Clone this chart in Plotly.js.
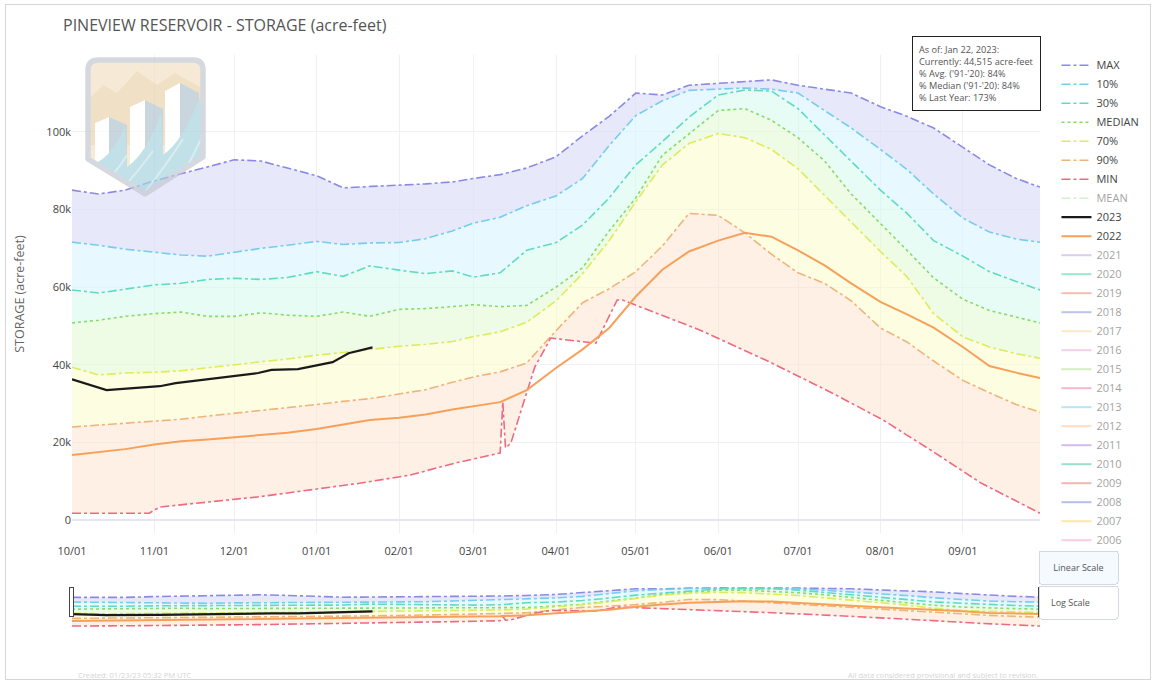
<!DOCTYPE html>
<html>
<head>
<meta charset="utf-8">
<script src="https://cdn.plot.ly/plotly-3.0.1.min.js"></script>
<style>
html,body{margin:0;padding:0;background:#fff;}
#chart{width:1156px;height:681px;position:absolute;left:0;top:0;}
#frame{position:absolute;left:5px;top:4px;width:1144px;height:674px;border:1px solid #d6d6d6;pointer-events:none;}
rect.rangeslider-mask-min-opp-axis, rect.rangeslider-mask-max-opp-axis{display:none !important;}
</style>
</head>
<body>
<div id="chart"></div>
<div id="frame"></div>
<script>
// ---- data (acre-feet) ----
const DATES = ['2022-10-01','2022-10-11','2022-10-21','2022-11-01','2022-11-11','2022-11-21','2022-12-01','2022-12-11','2022-12-21',
  '2023-01-01','2023-01-11','2023-01-21','2023-02-01','2023-02-11','2023-02-21','2023-03-01','2023-03-11','2023-03-21',
  '2023-04-01','2023-04-11','2023-04-21','2023-05-01','2023-05-11','2023-05-21','2023-06-01','2023-06-11','2023-06-21',
  '2023-07-01','2023-07-11','2023-07-21','2023-08-01','2023-08-11','2023-08-21','2023-09-01','2023-09-11','2023-09-21','2023-09-30'];
const MAX_VALS = [85000,84000,85000,87400,89200,91000,92800,92500,90700,88700,85600,86000,86300,86600,87100,88000,89000,90700,
  93600,99000,104000,110000,109500,112000,112500,112800,113400,112000,111000,110000,106500,104000,101000,96000,91500,88000,85800];
const P10_VALS = [71600,70800,69800,69000,68300,68000,69000,70000,70800,71800,71000,71400,71500,72500,74500,76500,78000,81000,
  83500,88000,96500,104200,108000,110700,111000,111300,111000,110000,105500,101000,95500,90300,84000,77800,74200,72400,71600];
const P30_VALS = [59300,58500,59500,60600,61000,62000,62300,62000,62500,64000,62800,65500,64400,63500,64200,62600,63700,69500,
  71500,76000,83000,91500,97500,103800,109500,110800,110500,106000,99200,92500,85000,79000,72000,68000,64000,61500,59300];
const MEDIAN_VALS = [50800,51500,52500,53200,53600,52500,52500,53400,52800,52500,53600,52500,54300,54500,55000,55500,55000,55300,
  60000,65000,74500,83000,94000,99500,105500,106000,103000,98500,92500,84000,76500,69500,62400,56900,54000,52300,50800];
const P70_VALS = [39400,37400,37900,38100,38500,39300,40000,40800,41500,42500,43200,44000,44800,45300,46000,47300,48500,51000,
  56500,63500,72000,82000,91500,97000,99600,98500,95500,90500,83700,76800,69200,62700,53200,47200,44600,42900,41700];
const P90_VALS = [24000,24500,25000,25500,26000,26800,27500,28300,29000,29800,30600,31300,32500,33600,35500,36900,38200,40500,
  48800,56000,59600,64000,70600,79000,78500,74000,68500,63700,61000,56500,49500,45900,41000,36000,32800,29800,27800];
const Y2022_VALS = [16800,17500,18300,19500,20300,20800,21400,21900,22500,23500,24700,25800,26400,27200,28500,29300,30400,33500,
  39200,44000,49500,57600,64500,69200,72000,74000,73000,69500,65600,61000,56200,53000,49600,44600,39700,38000,36600];

const MIN_DATES = ['2022-10-01','2022-10-30','2022-11-03','2022-12-10','2023-01-17','2023-02-05','2023-02-22','2023-03-11','2023-03-12',
  '2023-03-13','2023-03-15','2023-03-24','2023-03-30','2023-04-16','2023-04-24','2023-04-26','2023-05-25','2023-06-19','2023-07-14',
  '2023-08-02','2023-08-20','2023-09-08','2023-09-30'];
const MIN_VALS = [1800,1800,3400,6000,9500,11600,14700,17300,30400,18600,19800,39400,46900,45600,56700,56700,49000,41200,32700,
  25800,18000,9500,1800];

const Y2023_DATES = ['2022-10-01','2022-10-14','2022-11-03','2022-11-09','2022-12-10','2022-12-15','2022-12-25','2023-01-07','2023-01-13','2023-01-22'];
const Y2023_VALS = [36300,33500,34500,35300,37900,38700,38900,40700,43000,44515];

// series that are only listed in the legend (hidden, no values drawn)
const HIDDEN_YEARS = ['2021','2020','2019','2018','2017','2016','2015','2014','2013','2012','2011','2010','2009','2008','2007','2006'];
const HIDDEN_COLORS = ['#b39ddb','#3fcf9f','#f07a6a','#7f86e0','#ffd28a','#e6a0dc','#a9de86','#f0708c','#6ccbf0','#ffb98a',
  '#a37be0','#36c094','#e2705f','#6f7fd6','#ffcf52','#f39ad6'];

const TITLE = 'PINEVIEW RESERVOIR - STORAGE (acre-feet)';
const INFO_TEXT = "As of: Jan 22, 2023:<br>Currently: 44,515 acre-feet<br>% Avg. ('91-'20): 84%<br>% Median ('91-'20): 84%<br>% Last Year: 173%";

// ---- traces ----
const traces = [];
const bands = [
  {y: P90_VALS, fill: 'rgba(253,228,205,0.55)'},
  {y: P70_VALS, fill: 'rgba(250,252,205,0.6)'},
  {y: MEDIAN_VALS, fill: 'rgba(226,250,214,0.6)'},
  {y: P30_VALS, fill: 'rgba(215,250,238,0.6)'},
  {y: P10_VALS, fill: 'rgba(218,244,253,0.65)'},
  {y: MAX_VALS, fill: 'rgba(224,224,250,0.75)'}
];
traces.push({x: MIN_DATES, y: MIN_VALS, mode: 'lines', line: {width: 0}, showlegend: false, hoverinfo: 'skip'});
bands.forEach(b => traces.push({x: DATES, y: b.y, mode: 'lines', line: {width: 0}, fill: 'tonexty', fillcolor: b.fill, showlegend: false, hoverinfo: 'skip'}));

const stat = [
  {name: 'MAX', x: DATES, y: MAX_VALS, color: '#8a8ae6', dash: 'dashdot'},
  {name: '10%', x: DATES, y: P10_VALS, color: '#76cdef', dash: 'dashdot'},
  {name: '30%', x: DATES, y: P30_VALS, color: '#5fdcc0', dash: 'dashdot'},
  {name: 'MEDIAN', x: DATES, y: MEDIAN_VALS, color: '#86dc6a', dash: 'dot'},
  {name: '70%', x: DATES, y: P70_VALS, color: '#dcec5a', dash: 'dashdot'},
  {name: '90%', x: DATES, y: P90_VALS, color: '#efb47c', dash: 'dashdot'},
  {name: 'MIN', x: MIN_DATES, y: MIN_VALS, color: '#ee6a80', dash: 'dashdot'}
];
stat.forEach((s, i) => traces.push({x: s.x, y: s.y, name: s.name, mode: 'lines', legendrank: i + 1,
  line: {color: s.color, width: 1.6, dash: s.dash}}));
traces.push({x: [DATES[0]], y: [null], name: 'MEAN', mode: 'lines', legendrank: 8, visible: 'legendonly',
  line: {color: '#a6e6a0', width: 1.6, dash: 'dashdot'}});
traces.push({x: Y2023_DATES, y: Y2023_VALS, name: '2023', mode: 'lines', legendrank: 9, line: {color: '#1a1a1a', width: 2.2}});
traces.push({x: DATES, y: Y2022_VALS, name: '2022', mode: 'lines', legendrank: 10, line: {color: '#f7a05a', width: 2}});
HIDDEN_YEARS.forEach((yr, i) => traces.push({x: [DATES[0]], y: [null], name: yr, mode: 'lines', legendrank: 11 + i,
  visible: 'legendonly', line: {color: HIDDEN_COLORS[i], width: 2}}));

// ---- logo (svg) ----
const shield = 'M14,5 H108 Q118,5 118,15 V102 L60,139 L3,104 V15 Q3,5 14,5 Z';
const logoSvg = "<svg xmlns='http://www.w3.org/2000/svg' width='122' height='143' viewBox='0 0 122 143'>" +
  "<defs><clipPath id='c'><path d='" + shield + "'/></clipPath></defs>" +
  "<g clip-path='url(#c)'>" +
  "<rect x='0' y='0' width='122' height='143' fill='#f3e2c6'/>" +
  "<path d='M0,48 L18,30 L32,38 L52,16 L72,30 L90,18 L122,36 L122,90 L0,90 Z' fill='#ead3ad'/>" +
  "<path d='M10,68 L24,62 L24,120 L10,126 Z' fill='#ffffff'/>" +
  "<path d='M24,62 L42,70 L42,112 L24,120 Z' fill='#b3c6d1'/>" +
  "<path d='M45,52 L60,45 L60,108 L45,114 Z' fill='#ffffff'/>" +
  "<path d='M60,45 L78,54 L78,100 L60,108 Z' fill='#b3c6d1'/>" +
  "<path d='M80,36 L95,28 L95,96 L80,102 Z' fill='#ffffff'/>" +
  "<path d='M95,28 L114,38 L114,88 L95,96 Z' fill='#b3c6d1'/>" +
  "<path d='M0,143 L0,112 Q24,108 40,72 L42,112 Q62,98 76,58 L78,100 Q98,86 114,44 L122,40 L122,143 Z' fill='#a9d4df'/>" +
  "<path d='M8,140 Q30,120 42,100 M30,142 Q52,118 68,96 M56,142 Q80,112 98,84 M84,142 Q100,118 118,80' stroke='#c9e6ec' stroke-width='2' fill='none'/>" +
  "</g>" +
  "<path d='" + shield + "' fill='none' stroke='#c4cad2' stroke-width='5.5' stroke-linejoin='round'/>" +
  "</svg>";

// ---- layout ----
const PLOT_TOP = 55, PLOT_BOTTOM = 533, PLOT_LEFT = 72, PLOT_RIGHT = 1040;
const PH = PLOT_BOTTOM - PLOT_TOP, PW = PLOT_RIGHT - PLOT_LEFT;
const layout = {
  width: 1156, height: 681,
  margin: {l: PLOT_LEFT, r: 1156 - PLOT_RIGHT, t: PLOT_TOP, b: 681 - PLOT_BOTTOM, autoexpand: false},
  paper_bgcolor: 'white', plot_bgcolor: 'white',
  font: {family: '"Open Sans", sans-serif', color: '#444', size: 11},
  title: {text: TITLE, xref: 'container', yref: 'container', x: 63 / 1156, xanchor: 'left', y: 1 - 25 / 681, yanchor: 'middle',
    font: {size: 16, color: '#555'}},
  xaxis: {type: 'date', range: ['2022-10-01', '2023-09-30'], tickformat: '%m/%d', dtick: 'M1', tick0: '2022-10-01',
    gridcolor: '#edf0f5', showline: false, ticks: '', ticklabelstandoff: 10, tickfont: {size: 11, color: '#444'},
    rangeslider: {visible: true, thickness: 0.12, bgcolor: 'white', borderwidth: 0,
      yaxis: {rangemode: 'fixed', range: [-9600, 155800]}}},
  yaxis: {range: [-3300, 119800], dtick: 20000, gridcolor: '#edf0f5', zeroline: true, zerolinecolor: '#e4e7ee', zerolinewidth: 2,
    tickfont: {size: 11, color: '#444'},
    title: {text: 'STORAGE (acre-feet)', font: {size: 12.5, color: '#666'}, standoff: 18}},
  legend: {x: 1.017, xanchor: 'left', y: 1.009, yanchor: 'top', traceorder: 'normal', maxheight: 640,
    font: {size: 11, color: '#444'}, bgcolor: 'rgba(0,0,0,0)'},
  annotations: [
    {xref: 'paper', yref: 'paper', x: 1.001, y: 1 + (PLOT_TOP - 36) / PH, xanchor: 'right', yanchor: 'top', align: 'left',
      text: INFO_TEXT, showarrow: false, bordercolor: '#222', borderwidth: 1, borderpad: 6, bgcolor: 'white',
      font: {size: 9.2, color: '#555'}},
    {xref: 'paper', yref: 'paper', x: (76 - PLOT_LEFT) / PW, y: -(675 - PLOT_BOTTOM) / PH, xanchor: 'left', yanchor: 'middle',
      text: 'Created: 01/23/23 05:32 PM UTC', showarrow: false, font: {size: 7.5, color: '#d4d4d4'}},
    {xref: 'paper', yref: 'paper', x: 1, y: -(675 - PLOT_BOTTOM) / PH, xanchor: 'right', yanchor: 'middle',
      text: 'All data considered provisional and subject to revision.', showarrow: false, font: {size: 7.5, color: '#d4d4d4'}}
  ],
  updatemenus: [{
    type: 'buttons', direction: 'down', showactive: true, active: 0,
    x: (1038 - PLOT_LEFT) / PW, xanchor: 'left', y: -(550 - PLOT_BOTTOM) / PH, yanchor: 'top',
    pad: {t: 0, r: 0, b: 0, l: 0}, bgcolor: '#ffffff', bordercolor: '#d3d9e3', borderwidth: 1,
    font: {size: 9, color: '#555'},
    buttons: [
      {label: '\u00a0Linear Scale\u00a0', method: 'relayout', args: [{'yaxis.type': 'linear'}]},
      {label: 'Log Scale', method: 'relayout', args: [{'yaxis.type': 'log'}]}
    ]
  }],
  images: [{source: 'data:image/svg+xml;charset=utf-8,' + encodeURIComponent(logoSvg), xref: 'paper', yref: 'paper',
    x: (85 - PLOT_LEFT) / PW, y: 1 - (55 - PLOT_TOP) / PH, sizex: 122 / PW, sizey: 143 / PH, xanchor: 'left', yanchor: 'top',
    sizing: 'stretch', opacity: 0.7, layer: 'above'}]
};

Plotly.newPlot('chart', traces, layout, {displayModeBar: false, responsive: false});
</script>
</body>
</html>
